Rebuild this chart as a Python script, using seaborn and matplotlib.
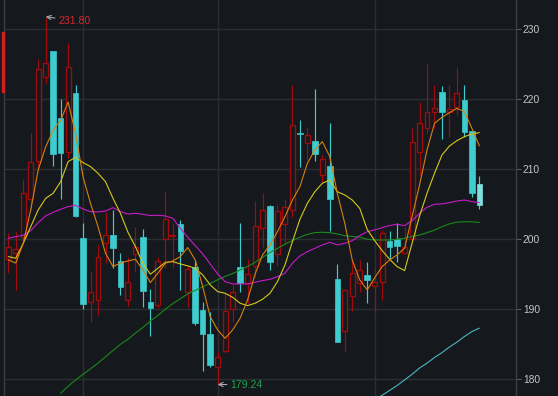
import numpy as np
import pandas as pd
import seaborn as sns
import matplotlib.pyplot as plt
from matplotlib.patches import Rectangle


sns.set_theme(style='dark')
plt.rcParams['font.family'] = ['Liberation Sans', 'DejaVu Sans']

bg_color = '#15181d'
up_color = '#a00c0e'
down_color = '#3ecccf'

# daily candles (open, high, low, close)
opens = [197.14, 198.0, 200.38, 205.76, 211.19, 223.23, 226.95, 217.38, 212.42, 220.95,
         200.14, 191.09, 191.33, 199.42, 200.57, 196.95, 191.33, 197.9, 200.38, 191.0,
         190.61, 200.04, 200.5, 202.19, 192.42, 196.0, 189.9, 186.47, 181.7, 184.05,
         190.0, 196.0, 193.71, 196.2, 201.57, 204.76, 197.9, 202.14, 204.19, 215.2,
         213.71, 214.09, 209.19, 210.52, 194.28, 186.95, 191.95, 193.71, 194.9, 193.33,
         193.95, 199.76, 200.0, 198.09, 200.04, 212.42, 215.95, 218.14, 221.0, 218.14,
         218.95, 219.9, 215.52, 207.85]
highs = [200.95, 201.14, 208.57, 215.23, 225.76, 231.80, 226.95, 220.0, 228.0, 222.04,
         202.28, 195.52, 199.19, 203.95, 204.23, 198.09, 197.42, 201.81, 201.47, 192.9,
         197.42, 206.71, 202.28, 202.76, 196.33, 197.04, 191.09, 189.66, 183.95, 192.4,
         193.48, 202.28, 197.19, 205.52, 206.57, 204.9, 204.9, 205.71, 222.04, 217.04,
         216.09, 221.42, 212.04, 216.57, 196.47, 192.9, 197.04, 197.04, 196.8, 196.09,
         201.3, 201.19, 202.28, 201.81, 215.85, 219.66, 225.04, 222.04, 221.9, 222.04,
         224.57, 222.04, 215.52, 209.05]
lows = [195.14, 192.76, 199.4, 204.2, 209.9, 222.38, 210.47, 205.76, 211.57, 203.14,
        190.04, 188.14, 189.19, 196.57, 195.85, 192.04, 190.4, 195.38, 190.28, 186.23,
        190.14, 195.85, 195.85, 192.76, 190.38, 187.76, 181.23, 181.8, 179.24, 183.8,
        188.24, 192.42, 190.85, 194.67, 198.95, 195.61, 196.19, 199.42, 203.23, 210.28,
        211.33, 211.23, 208.2, 201.23, 185.28, 184.09, 189.8, 192.42, 190.85, 189.66,
        191.33, 197.19, 196.71, 198.0, 199.9, 209.19, 215.14, 215.85, 214.33, 214.66,
        217.76, 214.57, 206.0, 204.28]
closes = [198.86, 198.66, 206.57, 211.09, 224.38, 225.14, 212.14, 212.28, 224.66, 203.38,
          190.71, 192.42, 197.52, 200.57, 198.81, 193.23, 193.9, 198.95, 192.67, 190.23,
          196.95, 202.95, 200.65, 198.38, 195.76, 188.0, 186.47, 182.04, 183.2, 189.8,
          192.42, 193.81, 195.05, 201.9, 204.19, 196.71, 204.09, 204.57, 216.28, 215.04,
          214.9, 212.19, 211.42, 205.76, 185.28, 192.76, 195.14, 195.61, 194.19, 193.95,
          200.85, 198.95, 199.09, 198.85, 213.95, 216.66, 218.14, 218.71, 218.14, 218.61,
          220.85, 215.38, 206.57, 204.9]

ma5 = [197.04, 196.6, 199.43, 204.2, 209.9, 213.2, 215.6, 217.0, 219.6, 215.1,
       208.9, 205.1, 201.8, 198.0, 196.1, 196.6, 196.9, 197.14, 195.61, 193.81,
       195.14, 196.57, 196.9, 197.52, 198.81, 197.04, 193.23, 188.95, 187.04, 185.85,
       187.04, 188.71, 191.33, 195.0, 197.76, 199.19, 201.09, 203.23, 205.61, 207.52,
       210.85, 212.76, 213.95, 211.8, 206.57, 202.28, 197.04, 194.19, 192.76, 194.5,
       196.09, 197.04, 197.76, 198.71, 203.23, 207.76, 212.76, 216.57, 217.43, 218.09,
       218.71, 218.23, 215.85, 213.33]
ma10 = [197.52, 197.29, 199.42, 201.8, 204.19, 205.85, 206.57, 208.23, 211.09, 211.71,
        210.95, 210.38, 209.42, 208.23, 205.85, 203.7, 201.0, 198.95, 196.57, 195.0,
        195.85, 196.71, 196.8, 196.48, 196.19, 195.85, 194.9, 193.48, 192.52, 192.28,
        191.71, 190.85, 190.52, 190.85, 191.42, 192.28, 193.95, 196.33, 199.66, 202.85,
        205.14, 206.8, 208.0, 208.47, 206.8, 206.33, 205.61, 204.42, 201.4, 199.8,
        198.38, 197.14, 196.09, 195.52, 199.42, 203.33, 206.57, 209.42, 212.04, 213.33,
        214.09, 214.66, 215.04, 215.23]
ma20 = [200.14, 200.38, 200.57, 201.23, 202.38, 203.33, 203.85, 204.28, 204.66, 204.85,
        204.33, 203.95, 203.9, 204.04, 204.52, 203.95, 203.6, 203.71, 203.57, 203.38,
        203.43, 203.33, 203.0, 201.57, 200.28, 199.09, 197.9, 196.47, 195.04, 193.95,
        193.61, 193.61, 193.61, 193.85, 194.09, 194.28, 194.66, 195.14, 196.57, 197.61,
        198.23, 198.71, 199.19, 199.57, 199.19, 199.42, 199.8, 200.52, 201.09, 201.33,
        201.66, 201.95, 202.14, 201.95, 202.66, 203.71, 204.57, 205.0, 205.05, 205.23,
        205.47, 205.61, 205.38, 205.23]
ma60 = [np.nan] * 7 + [
        178.0, 179.0, 179.9, 180.7, 181.5, 182.3, 183.2, 184.1, 185.0, 185.7,
        186.6, 187.4, 188.3, 189.1, 190.0, 190.8, 191.5, 192.2, 192.7, 193.2,
        193.7, 194.2, 194.7, 195.1, 195.6, 196.1, 196.7, 197.4, 198.1, 198.7,
        199.3, 199.8, 200.3, 200.7, 200.95, 201.0, 200.95, 200.75, 200.5, 200.4,
        200.3, 200.0, 199.9, 199.9, 199.9, 200.0, 200.15, 200.4, 200.6, 200.95,
        201.3, 201.8, 202.2, 202.45, 202.5, 202.5, 202.4]
ma120 = [np.nan] * 49 + [
         177.1, 177.7, 178.4, 179.1, 179.9, 180.7, 181.6, 182.3, 183.1, 183.8,
         184.6, 185.3, 186.1, 186.8, 187.3]

price_ticks = [180, 190, 200, 210, 220, 230]
month_breaks = [10, 28, 49]


def main():
    df = pd.DataFrame({'open': opens, 'high': highs, 'low': lows, 'close': closes,
                       'ma5': ma5, 'ma10': ma10, 'ma20': ma20, 'ma60': ma60, 'ma120': ma120})
    df['idx'] = np.arange(len(df))
    df['top'] = df[['open', 'close']].max(axis=1)
    df['bot'] = df[['open', 'close']].min(axis=1)
    up = df['close'] >= df['open']

    fig = plt.figure(figsize=(5.58, 3.96), dpi=100, facecolor=bg_color)
    ax = fig.add_axes([4 / 558, 0, 512 / 558, 1])
    ax.set_facecolor(bg_color)

    # wicks (split so hollow bodies stay empty)
    wick_cols = np.where(up, up_color, down_color)
    ax.vlines(df['idx'], df['top'], df['high'], colors=wick_cols, lw=0.85, zorder=2)
    ax.vlines(df['idx'], df['low'], df['bot'], colors=wick_cols, lw=0.85, zorder=2)

    body_h = (df['top'] - df['bot']).clip(lower=0.12)
    ax.bar(df.loc[up, 'idx'], body_h[up], bottom=df.loc[up, 'bot'], width=0.66,
           facecolor=bg_color, edgecolor=up_color, linewidth=0.95, zorder=3)
    down_fc = [down_color] * (~up).sum()
    down_fc[-1] = '#7fe0e0'
    ax.bar(df.loc[~up, 'idx'], body_h[~up], bottom=df.loc[~up, 'bot'], width=0.74,
           color=down_fc, edgecolor=down_fc, linewidth=0.5, zorder=3)

    line_styles = [('ma120', '#4bb6bf'), ('ma60', '#198a19'), ('ma20', '#c61cc8'),
                   ('ma10', '#d6c81a'), ('ma5', '#d8800f')]
    for col, c in line_styles:
        sns.lineplot(data=df, x='idx', y=col, color=c, linewidth=0.8, ax=ax, zorder=4)

    # high / low markers
    hi = df['high'].idxmax()
    lo = df['low'].idxmin()
    ax.annotate(f"{df.loc[hi, 'high']:.2f}", xy=(hi, df.loc[hi, 'high']), xytext=(9, -3),
                textcoords='offset points', color='#d8262e', fontsize=7.6, va='center',
                arrowprops=dict(arrowstyle='->', color='#a8a8a8', lw=0.8,
                                shrinkA=0, shrinkB=0))
    ax.annotate(f"{df.loc[lo, 'low']:.2f}", xy=(lo, df.loc[lo, 'low']), xytext=(9, 0),
                textcoords='offset points', color='#22a04a', fontsize=7.6, va='center',
                arrowprops=dict(arrowstyle='->', color='#a8a8a8', lw=0.8,
                                shrinkA=0, shrinkB=0))

    ax.set_xlim(-0.575, 67.9)
    ax.set_ylim(177.6, 234.19)
    ax.set_xticks(month_breaks)
    ax.set_xticklabels([])
    ax.set_yticks(price_ticks)
    ax.yaxis.tick_right()
    ax.tick_params(axis='x', length=0)
    ax.tick_params(axis='y', length=3.5, width=0.8, color='#5a5d62', pad=1.5,
                   labelsize=7.4, labelcolor='#c4c4c4')
    ax.grid(True, color='#2b2e33', linewidth=1.0)
    ax.set_xlabel('')
    ax.set_ylabel('')
    for side in ['top', 'bottom']:
        ax.spines[side].set_visible(False)
    for side in ['left', 'right']:
        ax.spines[side].set_visible(True)
        ax.spines[side].set_color('#3a3d42')
        ax.spines[side].set_linewidth(1.0)

    fig.patches.append(Rectangle((1.5 / 558, 1 - 92 / 396), 2.5 / 558, 60 / 396,
                                 transform=fig.transFigure, color='#d02020', zorder=5))

    plt.savefig('out.png', dpi=100, facecolor=bg_color)
    plt.close()


if __name__ == '__main__':
    main()
